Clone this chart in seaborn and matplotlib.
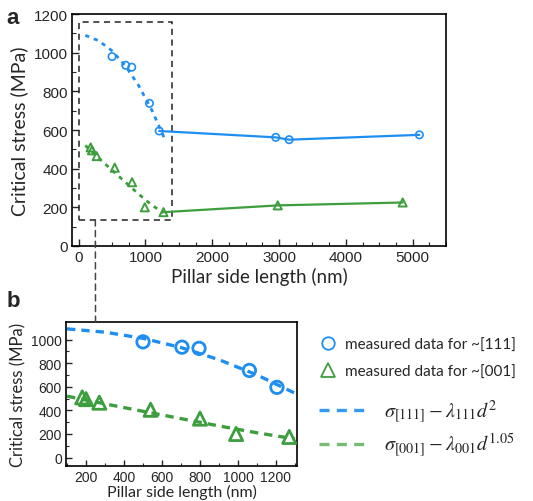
import numpy as np
import pandas as pd
import seaborn as sns
import matplotlib.pyplot as plt
from matplotlib.patches import Rectangle, ConnectionPatch
from matplotlib.lines import Line2D
from matplotlib.ticker import MultipleLocator

# measured critical stress, small pillars (inside the dashed box)
blue_x = [500, 705, 795, 1060, 1205]
blue_y = [980, 935, 925, 738, 595]
green_x = [180, 200, 270, 540, 800, 990, 1270]
green_y = [510, 495, 465, 405, 330, 200, 175]

# large pillars (panel a only)
blue_big_x = [2950, 3150, 5100]
blue_big_y = [562, 550, 575]
green_big_x = [2980, 4850]
green_big_y = [210, 225]

# fitted curves
fit_x = [100, 300, 500, 700, 900, 1100, 1300]
blue_fit_y = [1090, 1062, 1010, 932, 829, 700, 545]
green_fit_y = [520, 455, 392, 330, 268, 210, 158]

BLUE = '#1f8ef1'
GREEN = '#3d9e3d'

sns.set_style('white')
plt.rcParams['font.family'] = ['Liberation Sans', 'DejaVu Sans']
plt.rcParams['mathtext.fontset'] = 'stix'
LABEL_FONT = ['Lato', 'DejaVu Sans']

fig = plt.figure(figsize=(5.33, 5.02), dpi=100)
ax_a = fig.add_axes([0.135, 0.508, 0.702, 0.462])
ax_b = fig.add_axes([0.124, 0.070, 0.433, 0.287])

# ---- panel a ----
sns.lineplot(x=fit_x, y=blue_fit_y, ax=ax_a, color=BLUE, lw=2, dashes=(1.5, 1.8))
sns.lineplot(x=fit_x[:-1] + [1270], y=green_fit_y[:-1] + [172], ax=ax_a, color=GREEN, lw=2, dashes=(1.5, 1.8))
sns.lineplot(x=[blue_x[-1]] + blue_big_x, y=[blue_y[-1]] + blue_big_y, ax=ax_a, color=BLUE, lw=1.6)
sns.lineplot(x=[green_x[-1]] + green_big_x, y=[green_y[-1]] + green_big_y, ax=ax_a, color=GREEN, lw=1.6)
sns.scatterplot(x=blue_x + blue_big_x, y=blue_y + blue_big_y, ax=ax_a, marker='o', s=28,
                facecolor='none', edgecolor=BLUE, linewidth=1.2, zorder=5)
sns.scatterplot(x=green_x + green_big_x, y=green_y + green_big_y, ax=ax_a, marker='^', s=34,
                facecolor='none', edgecolor=GREEN, linewidth=1.4, zorder=5)

ax_a.set_xlim(-100, 5500)
ax_a.set_ylim(0, 1200)
ax_a.set_xticks([0, 1000, 2000, 3000, 4000, 5000])
ax_a.set_yticks(range(0, 1201, 200))
ax_a.xaxis.set_minor_locator(MultipleLocator(250))
ax_a.yaxis.set_minor_locator(MultipleLocator(100))
ax_a.tick_params(which='both', direction='in', bottom=True, left=True, top=False, right=False,
                 labelsize=11, pad=3)
ax_a.tick_params(which='major', length=5, width=1)
ax_a.tick_params(which='minor', length=3, width=0.8)
ax_a.set_xlabel('Pillar side length (nm)', family=LABEL_FONT, fontsize=13.5, labelpad=2)
ax_a.set_ylabel('Critical stress (MPa)', family=LABEL_FONT, fontsize=14, labelpad=4)
for s in ax_a.spines.values():
    s.set_color('black')
    s.set_linewidth(1.2)

ax_a.add_patch(Rectangle((0, 135), 1400, 1025, fill=False, ls=(0, (4, 3)), lw=1.1, ec='#222222'))

# ---- panel b ----
sns.lineplot(x=fit_x, y=blue_fit_y, ax=ax_b, color=BLUE, lw=2.4, dashes=(2.5, 1.8))
sns.lineplot(x=fit_x, y=green_fit_y, ax=ax_b, color=GREEN, lw=2.4, dashes=(2.5, 1.8))
sns.scatterplot(x=blue_x, y=blue_y, ax=ax_b, marker='o', s=80,
                facecolor='none', edgecolor=BLUE, linewidth=2, zorder=5)
sns.scatterplot(x=green_x, y=green_y, ax=ax_b, marker='^', s=90,
                facecolor='none', edgecolor=GREEN, linewidth=2, zorder=5)
ax_b.set_xlim(95, 1310)
ax_b.set_ylim(-70, 1150)
ax_b.set_xticks(range(200, 1201, 200))
ax_b.set_yticks(range(0, 1001, 200))
ax_b.xaxis.set_minor_locator(MultipleLocator(100))
ax_b.yaxis.set_minor_locator(MultipleLocator(100))
ax_b.tick_params(which='both', direction='in', bottom=True, left=True, labelsize=10, pad=3)
ax_b.tick_params(which='major', length=4, width=1)
ax_b.tick_params(which='minor', length=2.5, width=0.8)
ax_b.set_xlabel('Pillar side length (nm)', family=LABEL_FONT, fontsize=11.5, labelpad=0)
ax_b.set_ylabel('Critical stress (MPa)', family=LABEL_FONT, fontsize=12, labelpad=3)
for s in ax_b.spines.values():
    s.set_color('black')
    s.set_linewidth(1.2)

# dashed connector from box in a to panel b
con = ConnectionPatch(xyA=(250, 135), coordsA=ax_a.transData,
                      xyB=(250, 1150), coordsB=ax_b.transData,
                      ls=(0, (4, 3)), lw=1.1, color='#444444')
fig.add_artist(con)

# legends for panel b
h1 = [Line2D([], [], ls='none', marker='o', ms=9, mfc='none', mec=BLUE, mew=1.3),
      Line2D([], [], ls='none', marker='^', ms=10, mfc='none', mec=GREEN, mew=1.3)]
leg1 = fig.legend(h1, ['measured data for ~[111]', 'measured data for ~[001]'],
                  loc='upper left', bbox_to_anchor=(0.575, 0.353), frameon=False,
                  handlelength=1.0, handletextpad=0.6, labelspacing=0.85,
                  prop={'family': LABEL_FONT, 'size': 11})
h2 = [Line2D([], [], color=BLUE, lw=2.4, ls=(0, (3, 2.2)), alpha=0.9),
      Line2D([], [], color=GREEN, lw=2.4, ls=(0, (3, 2.2)), alpha=0.7)]
leg2 = fig.legend(h2, [r'$\sigma_{[111]}-\lambda_{111}d^{2}$', r'$\sigma_{[001]}-\lambda_{001}d^{1.05}$'],
                  loc='upper left', bbox_to_anchor=(0.565, 0.242), frameon=False,
                  handlelength=2.2, handletextpad=1.0, labelspacing=0.25,
                  prop={'size': 14.5})

fig.text(0.012, 0.963, 'a', fontsize=16, fontweight='bold', va='center')
fig.text(0.012, 0.400, 'b', fontsize=16, fontweight='bold', va='center')

fig.savefig('out.png', dpi=100)
